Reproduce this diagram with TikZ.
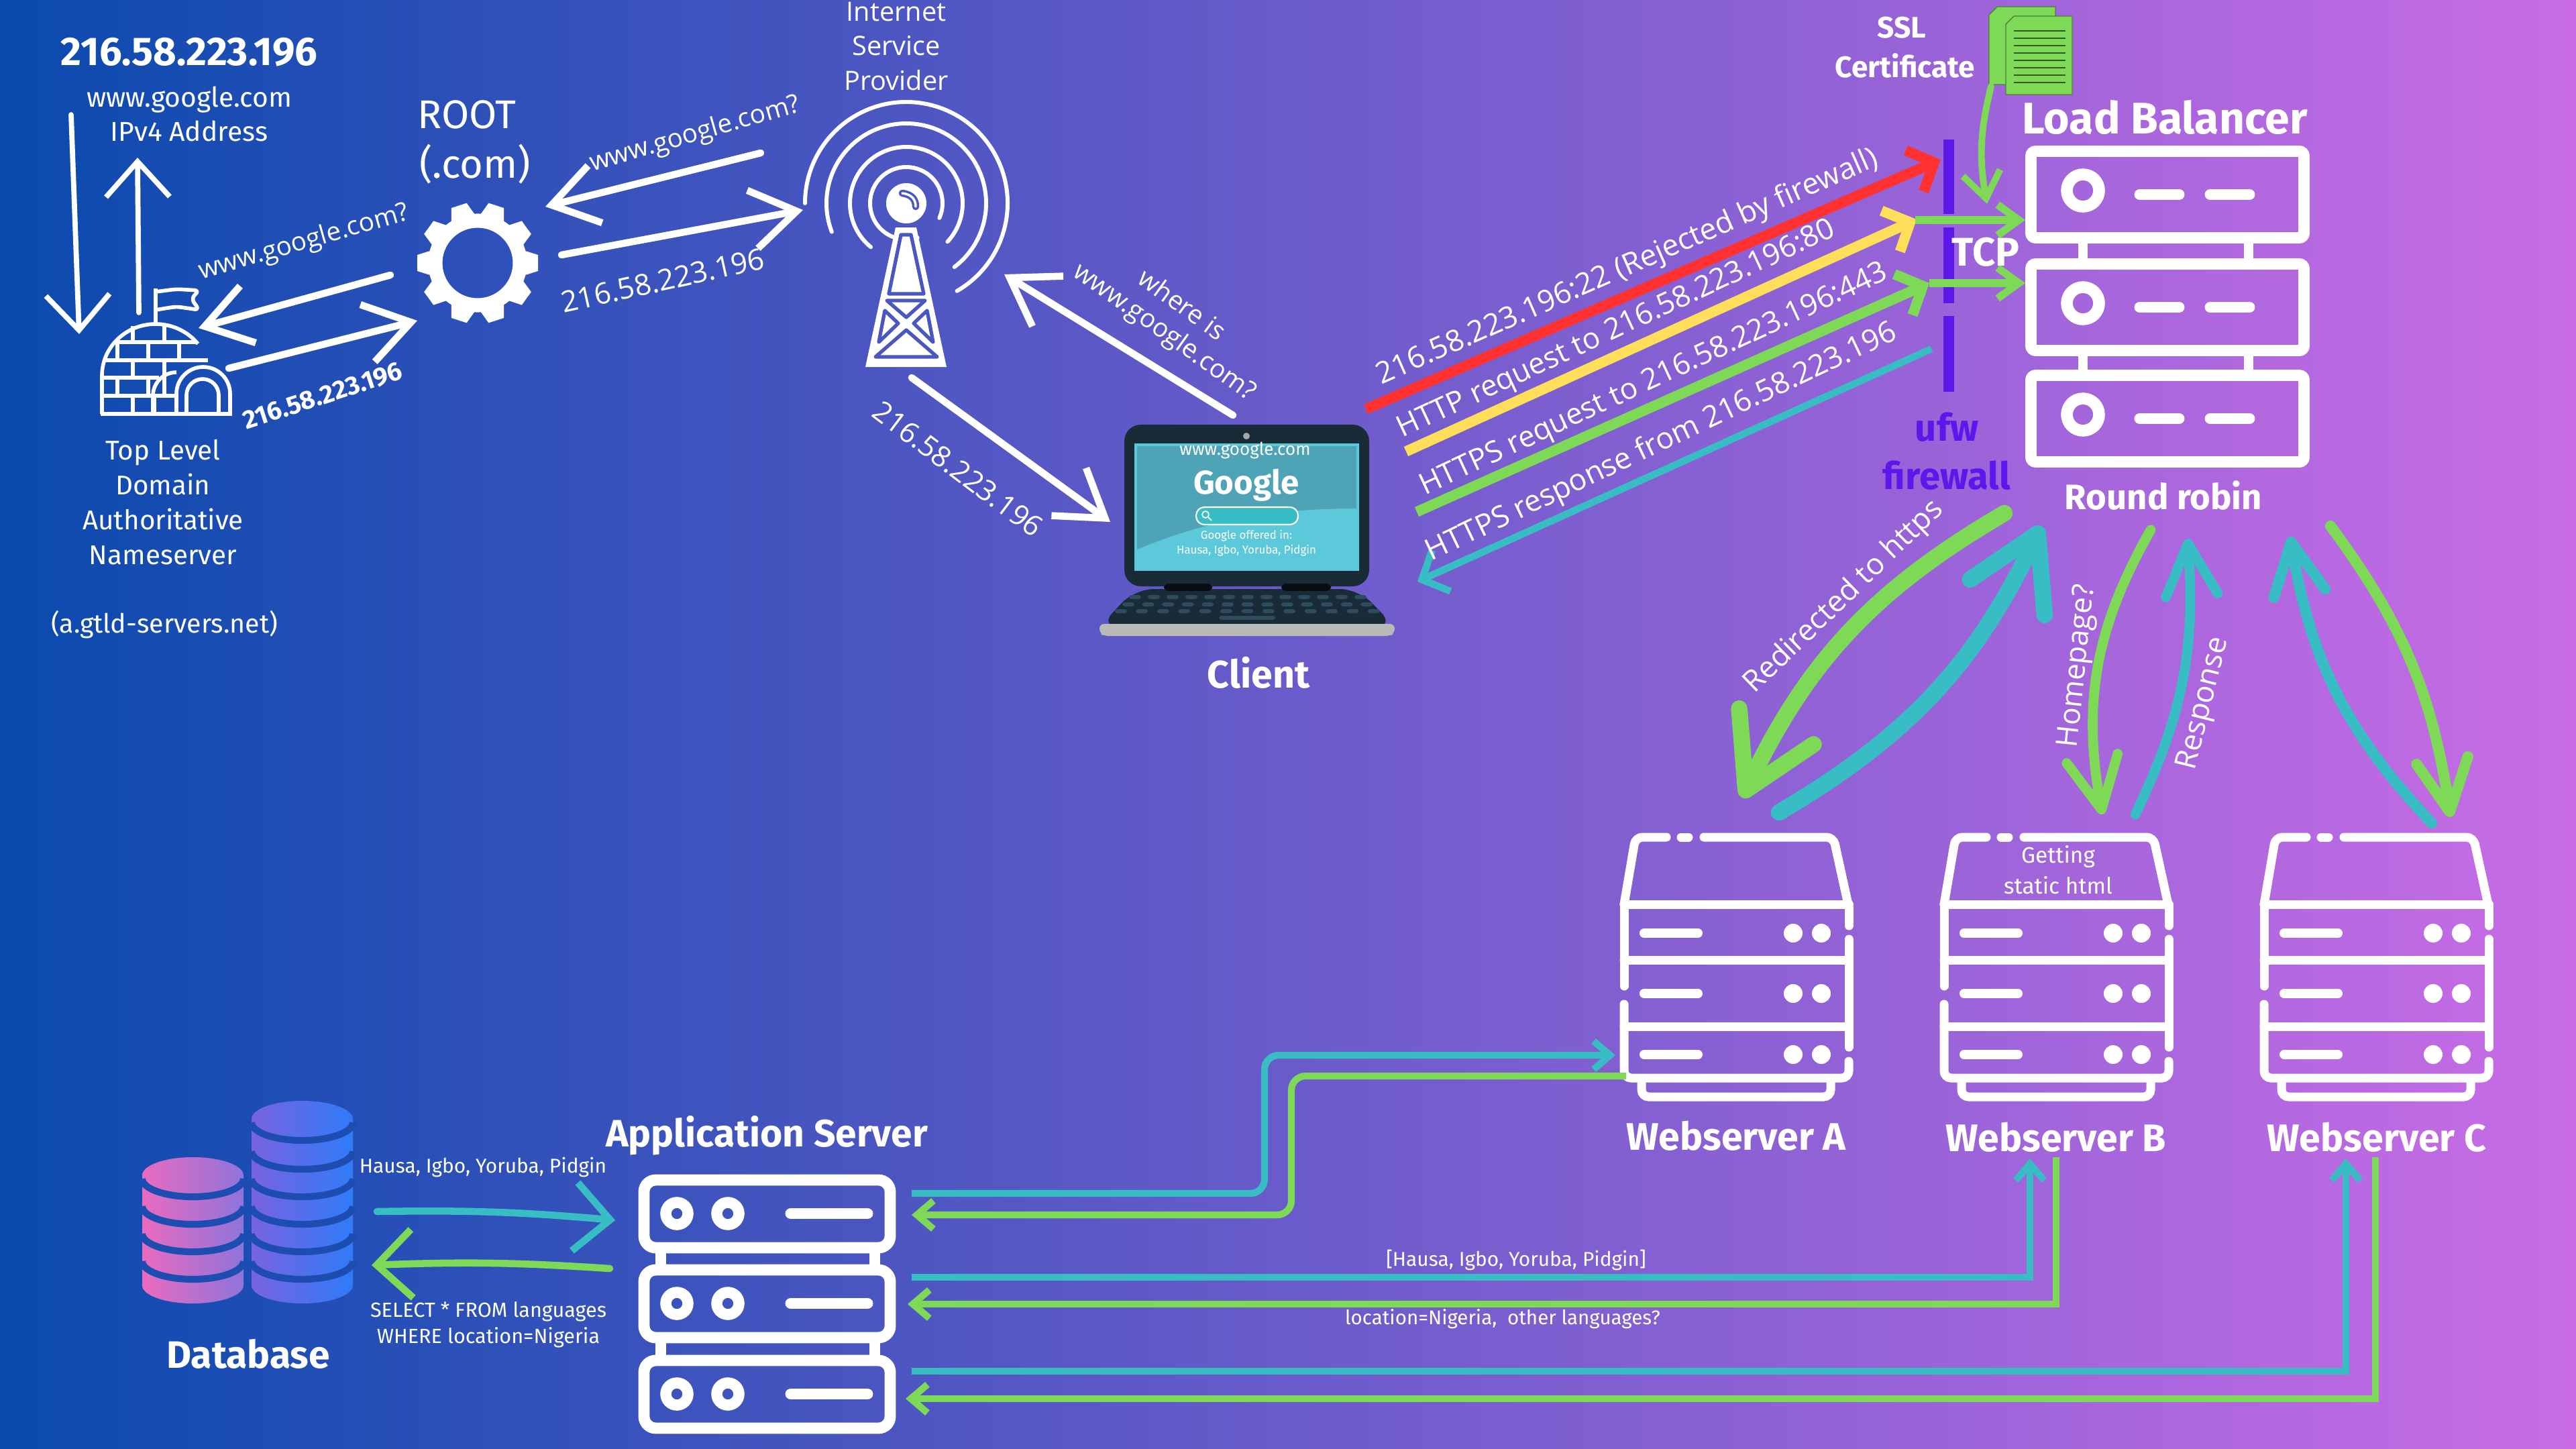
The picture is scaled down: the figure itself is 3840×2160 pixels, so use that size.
\documentclass[tikz,border=0pt]{standalone}
\usepackage{fontspec}
\setmainfont{Fira Sans}
\newfontfamily\widefont{Open Sans}
\usepackage{tikz}
\usetikzlibrary{positioning,arrows.meta}
\definecolor{tealline}{HTML}{38BDC4}
\definecolor{greenline}{HTML}{7ED957}
\definecolor{yellowline}{HTML}{FFDE59}
\definecolor{redline}{HTML}{FF3131}
\definecolor{wallviolet}{HTML}{5E17EB}
\definecolor{bgleft}{HTML}{0A4AAE}
\definecolor{bgright}{HTML}{C96CE6}
\definecolor{towerbg}{HTML}{4A57C1}
\definecolor{dbbg}{HTML}{1E4DB2}
\definecolor{dbpink}{HTML}{E96BBF}
\definecolor{dbmauve}{HTML}{8E74DB}
\definecolor{dbblue}{HTML}{2F7BF7}
\definecolor{lapdark}{HTML}{1A2B38}
\definecolor{lapkey}{HTML}{2F4B5E}
\definecolor{lapscreen}{HTML}{5CC9DA}
\definecolor{lapwave}{HTML}{4FA3B6}
\definecolor{docgreen}{HTML}{7ED957}
\newcommand{\fsz}[2]{\fontsize{#1}{#2}\selectfont}
\tikzset{
  lbl/.style={white,align=center,inner sep=0pt},
  boldlbl/.style={lbl,font=\fsz{#1}{#1}\bfseries},
  widelbl/.style={lbl,font=\widefont\fsz{#1}{#1}},
  chalk/.style={white,line width=3pt,line cap=round,-{Straight Barb[length=19pt,width=25pt]}},
  chalkdown/.style={white,line width=2.2pt,line cap=round,-{Straight Barb[length=15pt,width=27pt]}},
  ray/.style={line width=4.4pt,-{Straight Barb[length=9pt,width=19pt]}},
  tcpline/.style={greenline,line width=3.2pt,-{Straight Barb[length=9pt,width=13pt]}},
  fat/.style={line width=#1,line cap=round,-{Straight Barb[round,length=30pt,width=35pt]}},
  thin arrow/.style={line width=#1,line cap=round,-{Straight Barb[round,length=22pt,width=22pt]}},
  bus/.style={line width=2.9pt,rounded corners=6pt,-{Straight Barb[length=7pt,width=12pt]}},
  wall/.style={wallviolet,line width=4.8pt},
  srv/.style={white,line width=4.8pt,rounded corners=2pt},
  rack/.style={white,line width=3.7pt,line cap=round,rounded corners=3pt},
  thinwhite/.style={white,line width=1.6pt},
  towerline/.style={towerbg,line width=1.5pt,line join=round},
  dbband/.style={dbbg,line width=2.9pt},
}
\begin{document}
\begin{tikzpicture}[x=0.1mm,y=-0.1mm]
\useasboundingbox (0,0) rectangle (3840,2160);
\shade[left color=bgleft,right color=bgright] (0,0) rectangle (3840,2160);

% ================= Top level domain nameserver (igloo) =================
\node[boldlbl=17] (tldip) at (282,78) {216.58.223.196};
\node[lbl,font=\fsz{11.6}{14.6}] (tldaddr) at (282,170) {www.google.com\\IPv4 Address};
\node[lbl,font=\fsz{11.5}{14.8}] (tldname) at (243,749) {Top Level\\Domain\\Authoritative\\Nameserver};
\node[lbl,font=\fsz{11.2}{12}] (tldhost) at (245,931) {(a.gtld-servers.net)};
\begin{scope}[thinwhite,line join=round]
\draw (150,617) -- (346,617);
\draw (152,617) -- (152,560) arc[start angle=180,end angle=270,x radius=80,y radius=77] arc[start angle=270,end angle=322,x radius=80,y radius=77];
\draw (228,617) -- (228,590) arc[start angle=180,end angle=270,radius=35];
\draw (263,617) -- (263,587) arc[start angle=180,end angle=360,radius=40] -- (343,617);
\draw (278,617) -- (278,589) arc[start angle=180,end angle=360,radius=24] -- (326,617);
\draw (171,510) -- (293,510);
\draw (156,537) -- (310,537);
\draw (152,563) -- (237,563);
\draw (152,590) -- (263,590);
\foreach \x in {198,245}{\draw (\x,486) -- (\x,510); \draw (\x,537) -- (\x,563);}
\foreach \x in {175,221,267}{\draw (\x,510) -- (\x,537);}
\foreach \x in {175,221}{\draw (\x,563) -- (\x,590);}
\foreach \x in {198,230}{\draw (\x,590) -- (\x,617);}
\draw (245,563) -- (245,590);
\draw (232,483) -- (232,430);
\draw[rounded corners=2pt] (232,435) -- (263,431) -- (297,433) -- (285,445) -- (297,462) -- (263,457) -- (232,462);
\end{scope}
\coordinate (tldup) at (207,466); \coordinate (tldtop) at (205,235);
\coordinate (tlddown) at (106,171); \coordinate (tldbot) at (118,498);
\draw[chalkdown] (tlddown) -- (tldbot);
\draw[chalkdown] (tldup) -- (tldtop);

% ================= Root server (gear) =================
\node[lbl,font=\fsz{17}{17}] (rootname) at (696,171) {ROOT};
\node[lbl,font=\fsz{17}{17}] (rootcom) at (708,245) {(.com)};
\draw[white,line width=6pt] (712,392) circle (63);
\foreach \a in {0,36,...,324}{
  \begin{scope}[shift={(712,392)},rotate=\a]
    \fill[white] (68,-19) -- (90,-12) -- (90,12) -- (68,19) -- cycle;
  \end{scope}
}
\coordinate (rootin) at (582,410); \coordinate (tldin) at (296,489);
\coordinate (tldout) at (341,549); \coordinate (rootback) at (622,478);
\coordinate (ispout) at (1134,228); \coordinate (rootfront) at (813,308);
\coordinate (rootout) at (837,380); \coordinate (ispin) at (1197,313);
\draw[chalk] (rootin) -- (tldin);
\draw[chalk] (tldout) -- (rootback);
\draw[chalk] (ispout) -- (rootfront);
\draw[chalk] (rootout) -- (ispin);
\node[widelbl=11,rotate=16] (askroot) at (453,362) {www.google.com?};
\node[boldlbl=11,rotate=18] (tldanswer) at (481,590) {216.58.223.196};
\node[widelbl=11,rotate=16] (askisp) at (1036,201) {www.google.com?};
\node[widelbl=12.4,rotate=12.5] (rootanswer) at (988,418) {216.58.223.196};

% ================= Internet service provider (tower) =================
\node[lbl,font=\widefont\fsz{11.3}{14.6}] (ispname) at (1336,69) {Internet\\Service\\Provider};
\foreach \r/\e in {54/24,84/43,119/53,151/60}{
  \draw[white,line width=1.7pt,line cap=round] (1351,303) ++(\e:\r) arc[start angle=\e,end angle={\e-180-2*(90-\e)},radius=\r];
}
\fill[white] (1351,303) circle (30);
\draw[towerbg,line width=3pt,line cap=round] (1345,288) .. controls (1360,290) and (1365,298) .. (1365,308);
\draw[white,line width=1pt,line cap=round] (1345,288) .. controls (1360,290) and (1365,298) .. (1365,308);
\fill[white] (1335,339) -- (1366,339) -- (1411,547) -- (1290,547) -- cycle;
\draw[towerline] (1343,350) -- (1358,350) -- (1377,438) -- (1325,438) -- cycle;
\draw[towerline] (1322,448) -- (1379,448) -- (1351,473) -- cycle;
\draw[towerline] (1319,463) -- (1339,482) -- (1310,510) -- cycle;
\draw[towerline] (1382,463) -- (1362,482) -- (1391,510) -- cycle;
\draw[towerline] (1351,492) -- (1397,532) -- (1305,532) -- cycle;
\coordinate (lapout) at (1838,619); \coordinate (ispfront) at (1497,409);
\coordinate (ispdown) at (1359,563); \coordinate (lapin) at (1655,778);
\draw[chalk] (lapout) -- (ispfront);
\draw[chalk] (ispdown) -- (lapin);
\node[widelbl=11,rotate=-36] (askwhere) at (1763,453) {where is};
\node[widelbl=11,rotate=-35.5] (askname) at (1735,496) {www.google.com?};
\node[widelbl=12.2,rotate=-37] (ispanswer) at (1428,699) {216.58.223.196};

% ================= Client (laptop) =================
\fill[lapdark,rounded corners=7pt] (1676,633) rectangle (2041,874);
\fill[lapdark,rounded corners=8pt] (1692,878) -- (2025,878) -- (2079,934) -- (1639,934) -- cycle;
\fill[black!70!lapdark,rounded corners=2pt] (1735,870) rectangle (1807,881);
\fill[black!70!lapdark,rounded corners=2pt] (1910,870) rectangle (1984,881);
\fill[gray!55,rounded corners=2pt] (1639,930) -- (2079,930) -- (2079,944) -- (2072,948) -- (1646,948) -- (1639,944) -- cycle;
\fill[gray!70] (1858,650) circle (5);
\fill[lapscreen] (1691,661) rectangle (2026,851);
\fill[lapwave] (1695,665) -- (2022,665) -- (2022,758) .. controls (1900,758) and (1800,775) .. (1695,819) -- cycle;
\node[lbl,font=\fsz{7.4}{7.4}] (lapurl) at (1856,672) {www.google.com};
\node[boldlbl=14] (lapgoogle) at (1858,723) {Google};
\draw[white,fill=tealline,line width=0.6pt,rounded corners=3.5pt] (1783,756) rectangle (1935,782);
\draw[white,line width=0.5pt] (1797,767) circle (5) (1801,771) -- (1806,776);
\node[lbl,font=\fsz{4.8}{6.3}] (lapoffer) at (1858,810) {Google offered in:\\Hausa, Igbo, Yoruba, Pidgin};
\foreach \k in {0,...,12}{
  \fill[lapkey,rounded corners=1pt] ({1692+28*\k-9},887) rectangle ({1692+28*\k+9},893);
  \fill[lapkey,rounded corners=1pt] ({1682+29.6*\k-9},898) rectangle ({1682+29.6*\k+9},904);
  \fill[lapkey,rounded corners=1pt] ({1671+31.4*\k-9},908) rectangle ({1671+31.4*\k+9},914);
}
\fill[lapkey,rounded corners=1pt] (1817,918) rectangle (1901,924);
\node[boldlbl=16.3] (clientname) at (1876,1003) {Client};

% ================= Firewall and rays from the client =================
\draw[wall] (2905,208) -- (2905,319);
\draw[wall] (2905,339) -- (2905,452);
\draw[wall] (2905,471) -- (2905,584);
\node[font=\fsz{16}{16}\bfseries,text=wallviolet,inner sep=0pt] (ufwname) at (2902,637) {ufw};
\node[font=\fsz{16}{16}\bfseries,text=wallviolet,inner sep=0pt] (wallname) at (2902,709) {firewall};
\coordinate (redfrom) at (2036,610); \coordinate (redto) at (2893,238);
\coordinate (yelfrom) at (2096,673); \coordinate (yelto) at (2857,327);
\coordinate (grnfrom) at (2112,763); \coordinate (grnto) at (2876,422);
\coordinate (tealfrom) at (2879,520); \coordinate (tealto) at (2113,867);
\draw[ray,redline] (redfrom) -- (redto);
\draw[ray,yellowline] (yelfrom) -- (yelto);
\draw[ray,greenline] (grnfrom) -- (grnto);
\draw[ray,tealline,line width=3pt] (tealfrom) -- (tealto);
\coordinate (tcpa) at (2855,328); \coordinate (lba) at (3019,328);
\coordinate (tcpb) at (2876,422); \coordinate (lbb) at (3019,422);
\draw[tcpline] (tcpa) -- (lba);
\draw[tcpline] (tcpb) -- (lbb);
\node[boldlbl=17] (tcpname) at (2960,376) {TCP};
\node[widelbl=12.6,rotate=23.8] (raya) at (2426,399) {216.58.223.196:22 (Rejected by firewall)};
\node[widelbl=12.5,rotate=25] (rayb) at (2410,492) {HTTP request to 216.58.223.196:80};
\node[widelbl=12.5,rotate=25] (rayc) at (2466,567) {HTTPS request to 216.58.223.196:443};
\node[widelbl=12.6,rotate=25.5] (rayd) at (2477,660) {HTTPS response from 216.58.223.196};

% ================= Load balancer =================
\node[boldlbl=18.8] (lbname) at (3227,175) {Load Balancer};
\node[boldlbl=15] (lbrule) at (3225,739) {Round robin};
\foreach \y in {217,385,551}{
  \begin{scope}[shift={(0,\y)}]
    \draw[srv] (3027.5,8.5) rectangle (3434.5,137.5);
    \draw[white,line width=5pt] (3105,67) circle (24);
    \draw[white,line width=4.8pt,line cap=round] (3190,73) -- (3248,73);
    \draw[white,line width=4.8pt,line cap=round] (3295,73) -- (3353,73);
  \end{scope}
}
\foreach \x in {3105,3352}{
  \draw[white,line width=4.2pt] (\x,363) -- (\x,385);
  \draw[white,line width=4.2pt] (\x,531) -- (\x,551);
}

% ================= SSL certificate =================
\node[boldlbl=12.6] (sslname) at (2835,41) {SSL};
\node[boldlbl=12.6] (sslcert) at (2840,98) {Certificate};
\draw[fill=docgreen,draw=docgreen!60!black,thin] (2977,10) -- (3064,10) -- (3064,126) -- (2965,126) -- (2965,22) -- cycle;
\draw[fill=docgreen,draw=docgreen!60!black,thin] (3002,24) -- (3089,24) -- (3089,141) -- (2990,141) -- (2990,36) -- cycle;
\foreach \y in {46,57,68,79,90,101,112,123}{\draw[docgreen!40!black,semithick] (3002,\y) -- (3079,\y);}
\coordinate (sslout) at (2968,129); \coordinate (lbtop) at (2962,304);
\draw[greenline,line width=2.8pt,line cap=round,-{Straight Barb[length=11pt,width=16pt]}] (sslout) to[bend right=12] (lbtop);

% ================= Web servers =================
\foreach \off in {0,477,954}{
  \begin{scope}[shift={(\off,0)}]
    \draw[rack] (2421,1348) -- (2438,1248) -- (2484,1248);
    \draw[rack] (2506,1248) -- (2517,1248);
    \draw[rack] (2540,1248) -- (2733,1248) -- (2755,1348);
    \draw[rack] (2421,1348) -- (2756,1348);
    \draw[rack] (2421,1348) -- (2421,1470);
    \draw[rack] (2421,1497) -- (2421,1607) -- (2756,1607) -- (2756,1582);
    \draw[rack] (2756,1561) -- (2756,1400);
    \draw[rack] (2756,1380) -- (2756,1348);
    \draw[rack] (2421,1431) -- (2756,1431);
    \draw[rack] (2421,1530) -- (2756,1530);
    \draw[rack] (2447,1613) -- (2447,1635) -- (2729,1635) -- (2729,1613);
    \foreach \y in {1391,1481,1572}{
      \draw[white,line width=4pt,line cap=round] (2451,\y) -- (2531,\y);
      \fill[white] (2673,\y) circle (14);
      \fill[white] (2715,\y) circle (14);
    }
  \end{scope}
}
\node[boldlbl=16.3] (wsaname) at (2588,1693) {Webserver A};
\node[boldlbl=16.3] (wsbname) at (3065,1695) {Webserver B};
\node[boldlbl=16.3] (wscname) at (3543,1695) {Webserver C};
\node[lbl,font=\fsz{9.5}{13}] (wsbnote) at (3068,1297) {Getting\\static html};

% ================= Load balancer to web servers =================
\coordinate (lbagreen) at (2988,765); \coordinate (wsagreen) at (2597,1189);
\coordinate (wsateal) at (2652,1211); \coordinate (lbateal) at (3043,784);
\coordinate (lbbgreen) at (3206,790); \coordinate (wsbgreen) at (3134,1214);
\coordinate (wsbteal) at (3183,1214); \coordinate (lbbteal) at (3261,803);
\coordinate (wscteal) at (3625,1227); \coordinate (lbcteal) at (3414,800);
\coordinate (lbcgreen) at (3474,784); \coordinate (wscgreen) at (3653,1218);
\draw[fat=7pt,greenline] (lbagreen) to[bend right=17] (wsagreen);
\draw[fat=7pt,tealline] (wsateal) to[bend right=17] (lbateal);
\draw[thin arrow=4.2pt,greenline] (lbbgreen) to[bend right=20] (wsbgreen);
\draw[thin arrow=4.2pt,tealline] (wsbteal) to[bend right=15] (lbbteal);
\draw[thin arrow=4.6pt,tealline] (wscteal) to[bend left=17] (lbcteal);
\draw[thin arrow=4.6pt,greenline] (lbcgreen) to[bend left=14] (wscgreen);
\node[widelbl=12.6,rotate=44] (redirlbl) at (2749,890) {Redirected to https};
\node[widelbl=12.5,rotate=84] (homelbl) at (3098,993) {Homepage?};
\node[widelbl=12.7,rotate=76] (resplbl) at (3286,1049) {Response};

% ================= Database =================
\shade[left color=dbpink,right color=dbmauve] (212,1752) arc[start angle=180,end angle=360,x radius=75.5,y radius=27] -- (363,1916) arc[start angle=0,end angle=180,x radius=75.5,y radius=27] -- cycle;
\shade[left color=dbmauve!85!blue,right color=dbblue] (375,1668) arc[start angle=180,end angle=360,x radius=75.5,y radius=27] -- (526,1916) arc[start angle=0,end angle=180,x radius=75.5,y radius=27] -- cycle;
\foreach \y in {1757,1798,1839,1880}{\draw[dbband] (212,\y) arc[start angle=180,end angle=0,x radius=75.5,y radius=27];}
\foreach \y in {1673,1716,1757,1798,1839,1880}{\draw[dbband] (375,\y) arc[start angle=180,end angle=0,x radius=75.5,y radius=27];}
\node[boldlbl=16.2] (dbname) at (370,2018) {Database};
\node[lbl,font=\fsz{8.5}{8.5}] (dbresult) at (720,1740) {Hausa, Igbo, Yoruba, Pidgin};
\node[lbl,font=\fsz{8.7}{11}] (dbquery) at (728,1975) {SELECT * FROM languages\\WHERE location=Nigeria};
\coordinate (dbout) at (562,1806); \coordinate (appin) at (917,1819);
\coordinate (appout) at (909,1891); \coordinate (dbin) at (554,1886);
\draw[tealline,line width=3pt,line cap=round,-{Straight Barb[length=15pt,width=29pt]}] (dbout) to[bend left=3] (appin);
\draw[greenline,line width=3pt,line cap=round,-{Straight Barb[length=15pt,width=29pt]}] (appout) to[bend right=3] (dbin);

% ================= Application server =================
\node[boldlbl=16.2] (appname) at (1143,1693) {Application Server};
\foreach \y in {1751,1885,2020}{
  \begin{scope}[shift={(0,\y)}]
    \draw[srv,rounded corners=5pt] (960,8) rectangle (1327,109);
    \draw[white,line width=4.7pt] (1009,58) circle (16.5);
    \draw[white,line width=4.7pt] (1085,58) circle (16.5);
    \draw[white,line width=4.8pt,line cap=round] (1179,58) -- (1293,58);
  \end{scope}
}
\foreach \x in {985,1304}{
  \draw[white,line width=4.8pt] (\x,1868) -- (\x,1885);
  \draw[white,line width=4.8pt] (\x,2002) -- (\x,2020);
}

% ================= Application server to web servers =================
\coordinate (appa) at (1359,1779); \coordinate (turna) at (1885,1650); \coordinate (wsain) at (2408,1573);
\coordinate (wsaout) at (2424,1604); \coordinate (turnb) at (1925,1700); \coordinate (appaback) at (1359,1811);
\coordinate (appb) at (1359,1904); \coordinate (wsbin) at (3026,1727);
\coordinate (wsbout) at (3065,1725); \coordinate (appbback) at (1353,1944);
\coordinate (appc) at (1359,2044); \coordinate (wscin) at (3497,1727);
\coordinate (wscout) at (3541,1725); \coordinate (appcback) at (1350,2085);
\draw[bus,tealline] (appa) -| (turna) |- (wsain);
\draw[bus,greenline] (wsaout) -| (turnb) |- (appaback);
\draw[bus,tealline,rounded corners=0pt] (appb) -| (wsbin);
\draw[bus,greenline,rounded corners=0pt] (wsbout) |- (appbback);
\draw[bus,tealline,rounded corners=0pt] (appc) -| (wscin);
\draw[bus,greenline,rounded corners=0pt] (wscout) |- (appcback);
\node[lbl,font=\fsz{8.5}{8.5}] (buslangs) at (2260,1878) {[Hausa, Igbo, Yoruba, Pidgin]};
\node[lbl,font=\fsz{8.4}{8.4}] (busquery) at (2240,1966) {location=Nigeria,\ \ other languages?};
\end{tikzpicture}
\end{document}
